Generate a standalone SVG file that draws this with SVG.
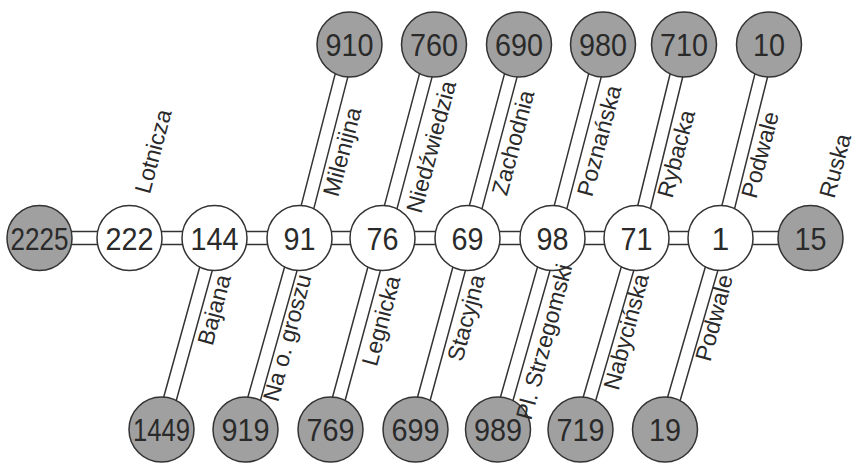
<svg xmlns="http://www.w3.org/2000/svg" width="868" height="472" viewBox="0 0 868 472">
<style>
.ro{stroke:#333;stroke-width:14.5;fill:none}
.ri{stroke:#fff;stroke-width:11.5;fill:none}
.w{fill:#fff;stroke:#333;stroke-width:1.5}
.g{fill:#a0a0a0;stroke:#333;stroke-width:1.5}
.n{font-family:"Liberation Sans",Arial,sans-serif;font-size:32px;fill:#2a2a2a;text-anchor:middle}
.l{font-family:"Liberation Sans",Arial,sans-serif;font-size:23px;fill:#2a2a2a;text-anchor:middle}
</style>
<rect width="868" height="472" fill="#fff"/>
<g id="connectors">
<path class="ro" d="M39.5 238H810.5M299.5 238L349.5 44.5M382.5 238L434 44.5M467.5 238L519 44.5M552.5 238L603 44.5M636.5 238L684 44.5M720.5 238L769 44.5M214.5 238L161.5 429.5M299.5 238L245.5 429.5M382.5 238L330.5 429.5M467.5 238L415.5 429.5M552.5 238L498 429.5M636.5 238L580.5 429.5M720.5 238L665 429.5"/>
<path class="ri" d="M39.5 238H810.5M299.5 238L349.5 44.5M382.5 238L434 44.5M467.5 238L519 44.5M552.5 238L603 44.5M636.5 238L684 44.5M720.5 238L769 44.5M214.5 238L161.5 429.5M299.5 238L245.5 429.5M382.5 238L330.5 429.5M467.5 238L415.5 429.5M552.5 238L498 429.5M636.5 238L580.5 429.5M720.5 238L665 429.5"/>
</g>
<g id="n2225"><circle class="g" cx="39.5" cy="238" r="32.5"/><text class="n" x="39.5" y="249.5" textLength="58" lengthAdjust="spacingAndGlyphs">2225</text></g>
<g id="n222"><circle class="w" cx="129.5" cy="238" r="32.5"/><text class="n" x="129.5" y="249.5" textLength="48" lengthAdjust="spacingAndGlyphs">222</text></g>
<g id="n144"><circle class="w" cx="214.5" cy="238" r="32.5"/><text class="n" x="214.5" y="249.5" textLength="48" lengthAdjust="spacingAndGlyphs">144</text></g>
<g id="n91"><circle class="w" cx="299.5" cy="238" r="32.5"/><text class="n" x="299.5" y="249.5" textLength="32" lengthAdjust="spacingAndGlyphs">91</text></g>
<g id="n76"><circle class="w" cx="382.5" cy="238" r="32.5"/><text class="n" x="382.5" y="249.5" textLength="32" lengthAdjust="spacingAndGlyphs">76</text></g>
<g id="n69"><circle class="w" cx="467.5" cy="238" r="32.5"/><text class="n" x="467.5" y="249.5" textLength="32" lengthAdjust="spacingAndGlyphs">69</text></g>
<g id="n98"><circle class="w" cx="552.5" cy="238" r="32.5"/><text class="n" x="552.5" y="249.5" textLength="32" lengthAdjust="spacingAndGlyphs">98</text></g>
<g id="n71"><circle class="w" cx="636.5" cy="238" r="32.5"/><text class="n" x="636.5" y="249.5" textLength="32" lengthAdjust="spacingAndGlyphs">71</text></g>
<g id="n1"><circle class="w" cx="720.5" cy="238" r="32.5"/><text class="n" x="720.5" y="249.5">1</text></g>
<g id="n15"><circle class="g" cx="810.5" cy="238" r="32.5"/><text class="n" x="810.5" y="249.5" textLength="32" lengthAdjust="spacingAndGlyphs">15</text></g>
<g id="n910"><circle class="g" cx="349.5" cy="44.5" r="32.5"/><text class="n" x="349.5" y="56" textLength="48" lengthAdjust="spacingAndGlyphs">910</text></g>
<g id="n760"><circle class="g" cx="434" cy="44.5" r="32.5"/><text class="n" x="434" y="56" textLength="48" lengthAdjust="spacingAndGlyphs">760</text></g>
<g id="n690"><circle class="g" cx="519" cy="44.5" r="32.5"/><text class="n" x="519" y="56" textLength="48" lengthAdjust="spacingAndGlyphs">690</text></g>
<g id="n980"><circle class="g" cx="603" cy="44.5" r="32.5"/><text class="n" x="603" y="56" textLength="48" lengthAdjust="spacingAndGlyphs">980</text></g>
<g id="n710"><circle class="g" cx="684" cy="44.5" r="32.5"/><text class="n" x="684" y="56" textLength="48" lengthAdjust="spacingAndGlyphs">710</text></g>
<g id="n10"><circle class="g" cx="769" cy="44.5" r="32.5"/><text class="n" x="769" y="56" textLength="32" lengthAdjust="spacingAndGlyphs">10</text></g>
<g id="n1449"><circle class="g" cx="161.5" cy="429.5" r="32.5"/><text class="n" x="161.5" y="441" textLength="57" lengthAdjust="spacingAndGlyphs">1449</text></g>
<g id="n919"><circle class="g" cx="245.5" cy="429.5" r="32.5"/><text class="n" x="245.5" y="441" textLength="48" lengthAdjust="spacingAndGlyphs">919</text></g>
<g id="n769"><circle class="g" cx="330.5" cy="429.5" r="32.5"/><text class="n" x="330.5" y="441" textLength="48" lengthAdjust="spacingAndGlyphs">769</text></g>
<g id="n699"><circle class="g" cx="415.5" cy="429.5" r="32.5"/><text class="n" x="415.5" y="441" textLength="48" lengthAdjust="spacingAndGlyphs">699</text></g>
<g id="n989"><circle class="g" cx="498" cy="429.5" r="32.5"/><text class="n" x="498" y="441" textLength="48" lengthAdjust="spacingAndGlyphs">989</text></g>
<g id="n719"><circle class="g" cx="580.5" cy="429.5" r="32.5"/><text class="n" x="580.5" y="441" textLength="48" lengthAdjust="spacingAndGlyphs">719</text></g>
<g id="n19"><circle class="g" cx="665" cy="429.5" r="32.5"/><text class="n" x="665" y="441" textLength="32" lengthAdjust="spacingAndGlyphs">19</text></g>
<g id="labels">
<text class="l" transform="translate(154,151.5) rotate(-75)" y="7">Lotnicza</text>
<text class="l" transform="translate(343,152) rotate(-75)" y="7">Milenijna</text>
<text class="l" transform="translate(432,147) rotate(-75)" y="7">Niedźwiedzia</text>
<text class="l" transform="translate(514,143) rotate(-75)" y="7">Zachodnia</text>
<text class="l" transform="translate(600,141) rotate(-75)" y="7">Poznańska</text>
<text class="l" transform="translate(677,154) rotate(-75)" y="7">Rybacka</text>
<text class="l" transform="translate(761,155) rotate(-75)" y="7">Podwale</text>
<text class="l" transform="translate(836,166) rotate(-75)" y="7">Ruska</text>
<text class="l" transform="translate(215,310) rotate(-75)" y="7">Bajana</text>
<text class="l" transform="translate(288,338) rotate(-75)" y="7">Na o. groszu</text>
<text class="l" transform="translate(382,321) rotate(-75)" y="7">Legnicka</text>
<text class="l" transform="translate(467,318) rotate(-75)" y="7">Stacyjna</text>
<text class="l" transform="translate(545,342) rotate(-75)" y="7">Pl. Strzegomski</text>
<text class="l" transform="translate(627,332) rotate(-75)" y="7">Nabycińska</text>
<text class="l" transform="translate(715,318) rotate(-75)" y="7">Podwale</text>
</g>
</svg>
